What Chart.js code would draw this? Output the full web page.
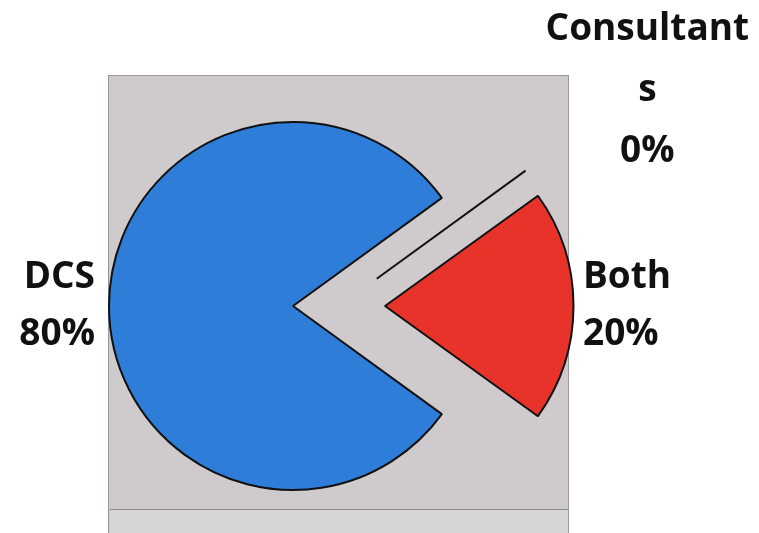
<!DOCTYPE html>
<html>
<head>
<meta charset="utf-8">
<script src="https://cdn.jsdelivr.net/npm/chart.js@4"></script>
<style>
    html, body { margin: 0; padding: 0; background: #ffffff; }
    #quadro { position: relative; width: 759px; height: 533px; overflow: hidden; }
    #fundo { position: absolute; left: 108px; top: 75px; width: 461px; height: 470px; background: #cfcbcd; border: 1px solid #9a9698; box-sizing: border-box; }
    #faixa { position: absolute; left: 110px; top: 509px; width: 458px; height: 30px; background: #d7d6d6; border-top: 1px solid #8c8c8c; }
    #grafico { position: absolute; left: 0; top: 0; }
</style>
</head>
<body>
<div id="quadro">
    <div id="fundo"></div>
    <div id="faixa"></div>
    <canvas id="grafico" width="759" height="533"></canvas>
</div>
<script>
const categorias = ['DCS', 'Consultants', 'Both'];
const valores = [80, 0, 20];
const rotulos = [['DCS', '80%'], ['Consultant', 's', '0%'], ['Both', '20%']];
const cores = ['#2e7ed9', '#cfcbcd', '#e8332b'];
const deslocamentos = [0, 0, 368];

// posicao de cada rotulo: distancia alem do raio, ajuste vertical, alinhamento
const estiloRotulo = [
    { dist: 14, dy: 0, align: 'right', linha: 57 },
    { dist: 254, dy: 42, align: 'center', linha: 61 },
    { dist: 14, dy: 0, align: 'left', linha: 57 }
];

const pluginRotulos = {
    id: 'rotulos',
    afterDatasetsDraw(chart) {
        const ctx = chart.ctx;
        const meta = chart.getDatasetMeta(0);

        // fatia de 0%: desenhada como uma linha solta
        const zero = meta.data[1];
        const ang = Math.atan2(Math.sin(zero.startAngle), Math.cos(zero.startAngle));
        const exp = 88;
        const ox = zero.x + Math.cos(ang / 2) * exp;
        const oy = zero.y + Math.sin(ang / 2) * exp;
        ctx.save();
        ctx.strokeStyle = '#111111';
        ctx.lineWidth = 2;
        ctx.beginPath();
        ctx.moveTo(ox, oy);
        ctx.lineTo(ox + Math.cos(ang) * zero.outerRadius, oy + Math.sin(ang) * zero.outerRadius);
        ctx.stroke();
        ctx.restore();

        ctx.save();
        ctx.fillStyle = '#111111';
        ctx.font = 'bold 37px "Open Sans"';
        ctx.textBaseline = 'middle';
        meta.data.forEach((arco, i) => {
            const meio = (arco.startAngle + arco.endAngle) / 2;
            const desl = (deslocamentos[i] || 0) / 4;
            const r = arco.outerRadius + desl + estiloRotulo[i].dist;
            const x = arco.x + Math.cos(meio) * r;
            const y = arco.y + Math.sin(meio) * r + estiloRotulo[i].dy;
            const linhas = rotulos[i];
            const h = estiloRotulo[i].linha;
            const inicio = y - (linhas.length - 1) * h / 2;
            ctx.textAlign = estiloRotulo[i].align;
            linhas.forEach((t, j) => {
                ctx.fillText(t, x, inicio + j * h);
            });
        });
        ctx.restore();
    }
};

new Chart(document.getElementById('grafico'), {
    type: 'pie',
    data: {
        labels: categorias,
        datasets: [{
            data: valores,
            backgroundColor: cores,
            borderColor: '#111111',
            borderWidth: 2,
            offset: deslocamentos
        }]
    },
    options: {
        responsive: false,
        animation: false,
        rotation: 126,
        radius: 184,
        layout: { padding: { left: 0, right: 173, top: 79, bottom: 0 } },
        plugins: {
            legend: { display: false },
            tooltip: { enabled: false }
        }
    },
    plugins: [pluginRotulos]
});
</script>
</body>
</html>
